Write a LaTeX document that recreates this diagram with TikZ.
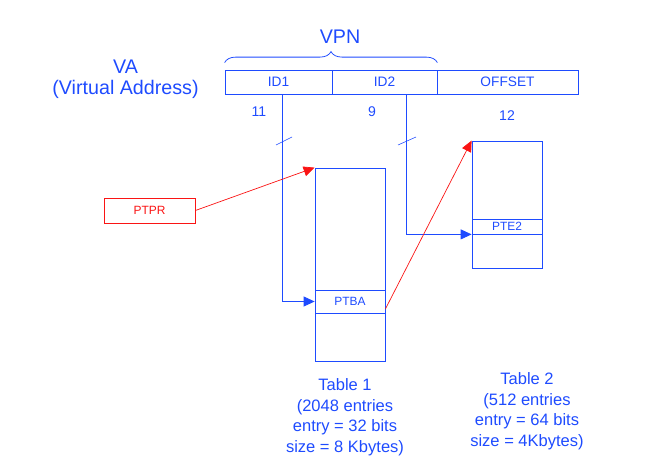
\documentclass[tikz,border=0pt]{standalone}
\usepackage{fontspec}
\setmainfont{Liberation Sans}
\usepackage{tikz}
\usetikzlibrary{arrows.meta,decorations.pathreplacing}
\definecolor{vablue}{RGB}{30,75,255}
\definecolor{vared}{RGB}{250,20,20}
\tikzset{
    every node/.style={text=vablue, inner sep=0pt}
}
\tikzset{
    field/.style={rectangle, draw=vablue, line width=1.1pt, minimum height=1.2cm,
    	font=\fontsize{19.5}{23}\selectfont},
    tbl/.style={rectangle, draw=vablue, line width=1.1pt, minimum width=3.5cm},
    entry/.style={tbl, font=\fontsize{17}{20}\selectfont},
    big/.style={align=center, font=\fontsize{28}{30}\selectfont},
    small/.style={font=\fontsize{20}{23}\selectfont},
    caption/.style={align=center, font=\fontsize{23.5}{29.2}\selectfont}
}
\tikzset{
    bline/.style={draw=vablue, line width=1.1pt},
    rline/.style={draw=vared, line width=1pt},
    tip/.style={-{Triangle[length=0.55cm,width=0.5cm]}}
}

\begin{document}
\begin{tikzpicture}
	\useasboundingbox (0cm, 0cm) rectangle (32.5cm, -23.7cm);
	% virtual address
	\node (va) [big] at ( 6.275cm, -3.975cm) {VA\\(Virtual Address)};
	\node (id1) [field, minimum width=5.35cm] at (13.925cm, -4.1cm) {ID1};
	\node (id2) [field, minimum width=5.25cm] at (19.225cm, -4.1cm) {ID2};
	\node (off) [field, minimum width=7.05cm] at (25.375cm, -4.1cm) {OFFSET};
	\node (vpn) [big] at (17.0cm, -1.85cm) {VPN};
	\draw[bline, decorate, decoration={brace, amplitude=0.55cm, raise=0.35cm}]
		(id1.north west) -- (id2.north east);
	\node (n11) [small] at (12.95cm, -5.6cm) {11};
	\node (n9) [small] at (18.6cm, -5.6cm) {9};
	\node (n12) [small] at (25.35cm, -5.8cm) {12};
	% tables
	\node (t1) [tbl, minimum height=9.65cm] at (17.5cm, -13.225cm) {};
	\node (ptba) [entry, minimum height=1.15cm] at (17.5cm, -15.075cm) {PTBA};
	\node (t2) [tbl, minimum height=6.35cm] at (25.35cm, -10.225cm) {};
	\node (pte2) [entry, minimum height=0.75cm] at (25.35cm, -11.325cm) {PTE2};
	\node (ptpr) [entry, draw=vared, text=vared, minimum width=4.55cm,
		minimum height=1.25cm] at ( 7.475cm, -10.525cm) {PTPR\hspace{0.65cm}};
	\node (c1) [caption] at (17.25cm, -20.85cm)
		{Table 1\\(2048 entries\\entry = 32 bits\\size = 8 Kbytes)};
	\node (c2) [caption] at (26.35cm, -20.55cm)
		{Table 2\\(512 entries\\entry = 64 bits\\size = 4Kbytes)};
	% index lines
	\coordinate (id1 out) at (14.1cm, -4.7cm);
	\coordinate (id2 out) at (20.3cm, -4.7cm);
	\draw[bline, tip] (id1 out) |- (ptba.west);
	\draw[bline, tip] (id2 out) |- (pte2.south west);
	\draw[bline, line width=0.8pt] (13.8cm, -7.25cm) -- (14.6cm, -6.85cm);
	\draw[bline, line width=0.8pt] (19.9cm, -7.25cm) -- (20.8cm, -6.85cm);
	% pointers
	\draw[rline, tip] (ptpr.east) -- (t1.north west);
	\draw[rline, tip] (ptba.-12) -- (t2.north west);
\end{tikzpicture}
\end{document}
